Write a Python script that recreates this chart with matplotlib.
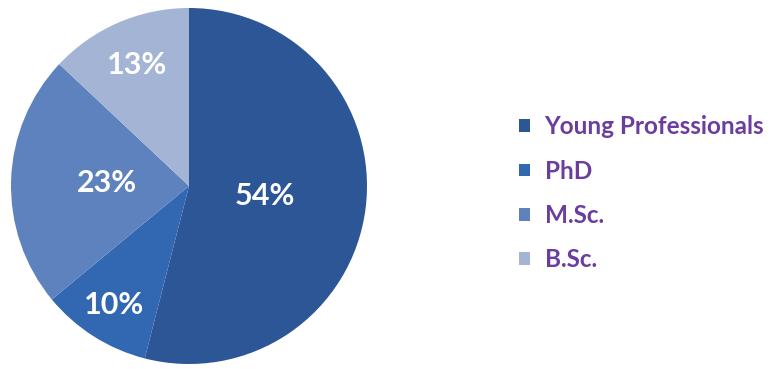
import matplotlib
matplotlib.use("Agg")
import matplotlib.pyplot as plt
import numpy as np

categories = ["Young Professionals", "PhD", "M.Sc.", "B.Sc."]
values = [54, 10, 23, 13]
labels = ["54%", "10%", "23%", "13%"]
colors = ["#2C5696", "#3168B1", "#5D82BE", "#A4B4D5"]
label_r = [0.43, 0.79, 0.46, 0.74]

fig = plt.figure(figsize=(7.71, 3.69), dpi=100)
ax = fig.add_axes([11/771, 5/369, 356/771, 356/369])
wedges, _ = ax.pie(values, colors=colors, startangle=90, counterclock=False,
                   radius=1, wedgeprops=dict(linewidth=0))
ax.set_xlim(-1, 1)
ax.set_ylim(-1, 1)
ax.set_aspect("equal")
ax.axis("off")

for w, lab, r in zip(wedges, labels, label_r):
    ang = np.deg2rad((w.theta1 + w.theta2) / 2)
    ax.text(r * np.cos(ang), r * np.sin(ang), lab, ha="center", va="center",
            color="white", fontsize=22, fontweight="bold", family="Lato")

leg = fig.legend(wedges, categories, loc="upper left",
                 bbox_to_anchor=(512/771, 1 - 108/369), frameon=False,
                 handlelength=0.42, handleheight=0.42, handletextpad=0.62,
                 labelspacing=0.88, borderaxespad=0, borderpad=0.3,
                 prop=dict(family="Lato", weight="bold", size=17.5))
for t in leg.get_texts():
    t.set_color("#6B3E9E")

fig.savefig("out.png", dpi=100)
